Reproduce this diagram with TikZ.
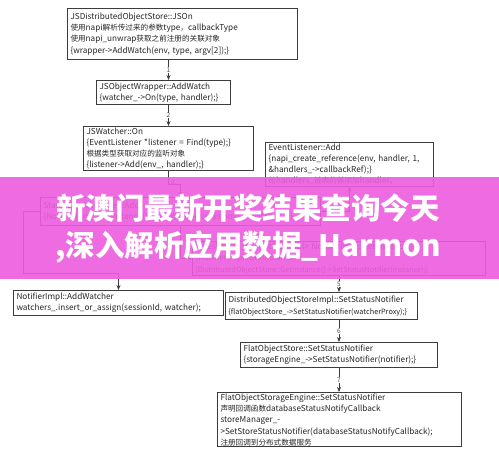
\documentclass[tikz,border=0pt]{standalone}
\usepackage{fontspec}
\setmainfont{Noto Sans CJK SC}
\usetikzlibrary{arrows.meta}
\definecolor{linec}{RGB}{60,60,60}
\definecolor{bannerc}{RGB}{238,92,222}
\newcommand\zhtxt[1]{{\fontsize{7.6}{11.3}\selectfont #1}}
\newcommand\narrowtxt[1]{{\fontsize{7.3}{11.3}\selectfont #1}}
\tikzset{
  box/.style={draw=linec, line width=1pt, fill=white, anchor=north west, align=left,
    inner xsep=3pt, inner ysep=1pt, font=\fontsize{8.2}{11.3}\selectfont, text=black!85},
  arr/.style={draw=linec, line width=0.8pt, -{Stealth[length=5pt,width=4pt]}},
  num/.style={fill=white, inner sep=0.6pt, font=\fontsize{6.5}{7}\selectfont, text=black!70},
  bantext/.style={text=white, font=\fontsize{29.5}{30}\selectfont\bfseries}
}
\begin{document}
\begin{tikzpicture}[x=1pt,y=-1pt]
\useasboundingbox (0,0) rectangle (499,459);
\fill[white] (0,0) rectangle (499,459);

\node[box, text width=224pt, minimum height=51pt] (b1) at (67,8)
 {JSDistributedObjectStore::JSOn\\\zhtxt{使用}napi\zhtxt{解析传过来的参数}type\zhtxt{，}callbackType\\\zhtxt{使用}napi\_unwrap\zhtxt{获取之前注册的关联对象}\\\{wrapper->AddWatch(env, type, argv[2]);\}};
\node[box, text width=128pt, minimum height=24pt] (b2) at (96,80)
 {JSObjectWrapper::AddWatch\\\{watcher\_->On(type, handler);\}};
\node[box, text width=164pt, minimum height=44pt] (b3) at (83,126)
 {JSWatcher::On\\\{EventListener *listener = Find(type);\}\\\zhtxt{根据类型获取对应的监听对象}\\\{listener->Add(env\_, handler);\}};
\node[box, text width=162pt, minimum height=41pt] (el) at (265,142)
 {EventListener::Add\\\{napi\_create\_reference(env, handler, 1,\\\&handlers\_->callbackRef);\}\\\zhtxt{给}handlers\_\zhtxt{链表的首添加}handler\zhtxt{。}};
\node[box, text width=274pt, minimum height=28pt] (sl) at (40,197)
 {StatusEventListener::Add\\\{NotifierImpl::GetInstance()->AddWatcher(sessionId\_, watcher\_);\}};
\node[box, text width=287pt, minimum height=34pt] (gi) at (192,241)
 {std::shared\_ptr<NotifierImpl> NotifierImpl::GetInstance()\\\{NotifierImpl::GetInstance\\\mbox{\narrowtxt{\{DistributedObjectStore::GetInstance()->SetStatusNotifier(instance);\}}}};
\node[box, text width=204pt, minimum height=25pt] (ni) at (13,290)
 {NotifierImpl::AddWatcher\\watchers\_.insert\_or\_assign(sessionId, watcher);};
\node[box, text width=186pt, minimum height=27pt] (ds) at (225,292)
 {DistributedObjectStoreImpl::SetStatusNotifier\\\mbox{\narrowtxt{\{flatObjectStore\_->SetStatusNotifier(watcherProxy);\}}}};
\node[box, text width=191pt, minimum height=25pt] (fs) at (240,342)
 {FlatObjectStore::SetStatusNotifier\\\mbox{\{storageEngine\_->SetStatusNotifier(notifier);\}}};
\node[box, text width=238pt, minimum height=52pt] (fe) at (217,392)
 {FlatObjectStorageEngine::SetStatusNotifier\\\zhtxt{声明回调函数}databaseStatusNotifyCallback\\storeManager\_-\\>SetStoreStatusNotifier(databaseStatusNotifyCallback);\\\zhtxt{注册回调到分布式数据服务}};

% connectors
\draw[arr] (b3.south |- b1.south) -- node[num]{1} (b3.south |- b2.north);
\draw[arr] (b3.south |- b2.south) -- node[num]{2} (b3.north);
\coordinate (k3) at (b3.south |- 0,184);
\draw[arr] (b3.south) -- (k3) -| (sl.north);
\node[num, fill=none] at (173,182) {3};
\draw[arr] (sl.east) -| (el.south);
\draw[arr] (sl.south) |- (gi.west);
\coordinate (k4) at ([xshift=-17pt]sl.west);
\draw[arr] (sl.west) -- (k4) |- ([yshift=17pt]ni.north) -- (ni.north);
\draw[arr] (gi.south) -- node[num]{5} (gi.south |- ds.north);
\draw[arr] (gi.south |- ds.south) -- node[num]{6} (gi.south |- fs.north);
\draw[arr] (gi.south |- fs.south) -- node[num]{7} (gi.south |- fe.north);

% banner
\fill[bannerc, opacity=0.9] (0,177) rectangle (499,279);
\node[bantext] (t1) at (248,208) {新澳门最新开奖结果查询今天};
\node[bantext] (t2) at (248,247) {,深入解析应用数据\_Harmon};
\end{tikzpicture}
\end{document}
